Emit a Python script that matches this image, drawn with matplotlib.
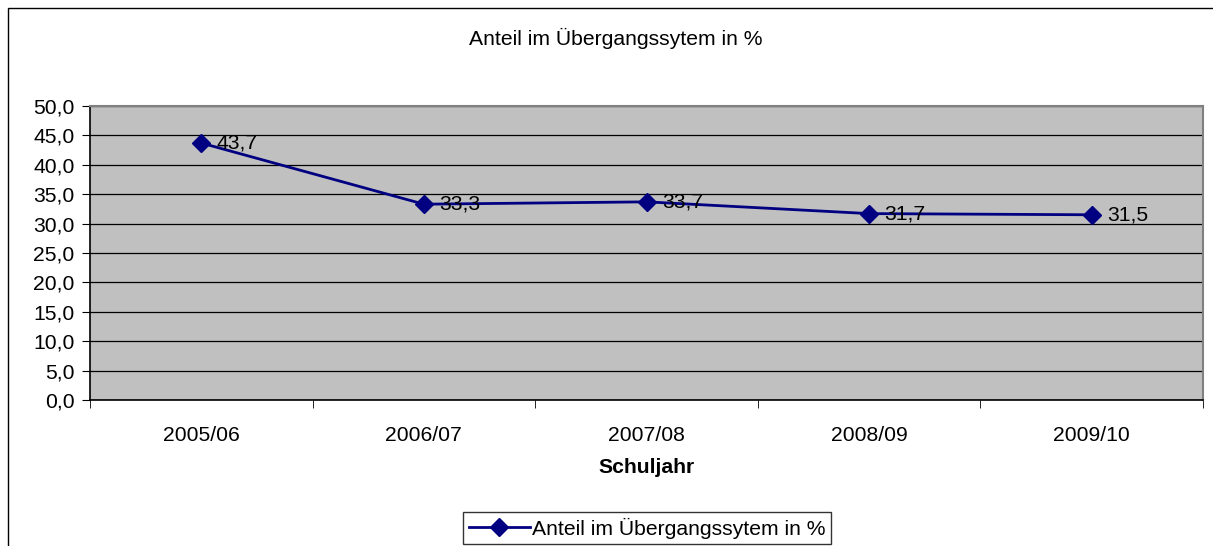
import matplotlib.pyplot as plt
from matplotlib.patches import Rectangle

# Chart data
school_years = ['2005/06', '2006/07', '2007/08', '2008/09', '2009/10']
share_values = [43.7, 33.3, 33.7, 31.7, 31.5]
y_ticks = [0, 5, 10, 15, 20, 25, 30, 35, 40, 45, 50]

TITLE = 'Anteil im Übergangssytem in %'
NAVY = '#000080'
FS = 15.2

plt.rcParams['font.family'] = ['Liberation Sans', 'DejaVu Sans']
plt.rcParams['font.size'] = FS


def de(v):
    """Format number with German decimal comma."""
    return f'{v:.1f}'.replace('.', ',')


fig = plt.figure(figsize=(12.13, 5.46), dpi=100)
fig.patch.set_facecolor('white')

# Outer chart frame (only left/top visible in reference)
fig.patches.append(Rectangle((8 / 1213, -0.1), 1.2, 1 - 8 / 546 + 0.1,
                             transform=fig.transFigure, fill=False,
                             edgecolor='black', linewidth=1.0))

ax = fig.add_axes([90 / 1213, 1 - 400 / 546, 1113 / 1213, 294 / 546])
ax.set_facecolor('#C0C0C0')

x = list(range(len(school_years)))
line, = ax.plot(x, share_values, color=NAVY, linewidth=2, marker='D',
                markersize=9, markerfacecolor=NAVY, markeredgecolor=NAVY,
                label=TITLE, zorder=3)

for xi, v in zip(x, share_values):
    ax.annotate(de(v), (xi, v), xytext=(11, 0), textcoords='offset points',
                va='center', ha='left', fontsize=FS, zorder=4)

ax.set_xlim(-0.5, len(school_years) - 0.5)
ax.set_ylim(0, 50)
ax.set_yticks(y_ticks)
ax.set_yticklabels([de(v) for v in y_ticks])
ax.set_xticks(x)
ax.set_xticklabels(school_years)
ax.tick_params(axis='x', length=0, pad=19)
ax.set_xticks([i - 0.5 for i in range(len(school_years) + 1)], minor=True)
ax.tick_params(axis='x', which='minor', length=6, direction='out', color='black')
ax.tick_params(axis='y', length=6, direction='out', color='black', pad=5)

ax.grid(axis='y', color='black', linewidth=0.9)
ax.set_axisbelow(True)

for side in ['top', 'right']:
    ax.spines[side].set_color('#808080')
    ax.spines[side].set_linewidth(1.5)
for side in ['left', 'bottom']:
    ax.spines[side].set_color('black')
    ax.spines[side].set_linewidth(1.2)

ax.set_xlabel('Schuljahr', fontweight='bold', labelpad=9)

fig.text(616 / 1213, 1 - 38 / 546, TITLE, ha='center', va='center', fontsize=FS)

leg = fig.legend(handles=[line], loc='center', bbox_to_anchor=(647 / 1213, 1 - 528 / 546),
                 frameon=True, fancybox=False, edgecolor='black', handlelength=2.9,
                 borderpad=0.25, handletextpad=0.1, borderaxespad=0)
leg.get_frame().set_linewidth(1.0)

fig.savefig('out.png', dpi=100)
